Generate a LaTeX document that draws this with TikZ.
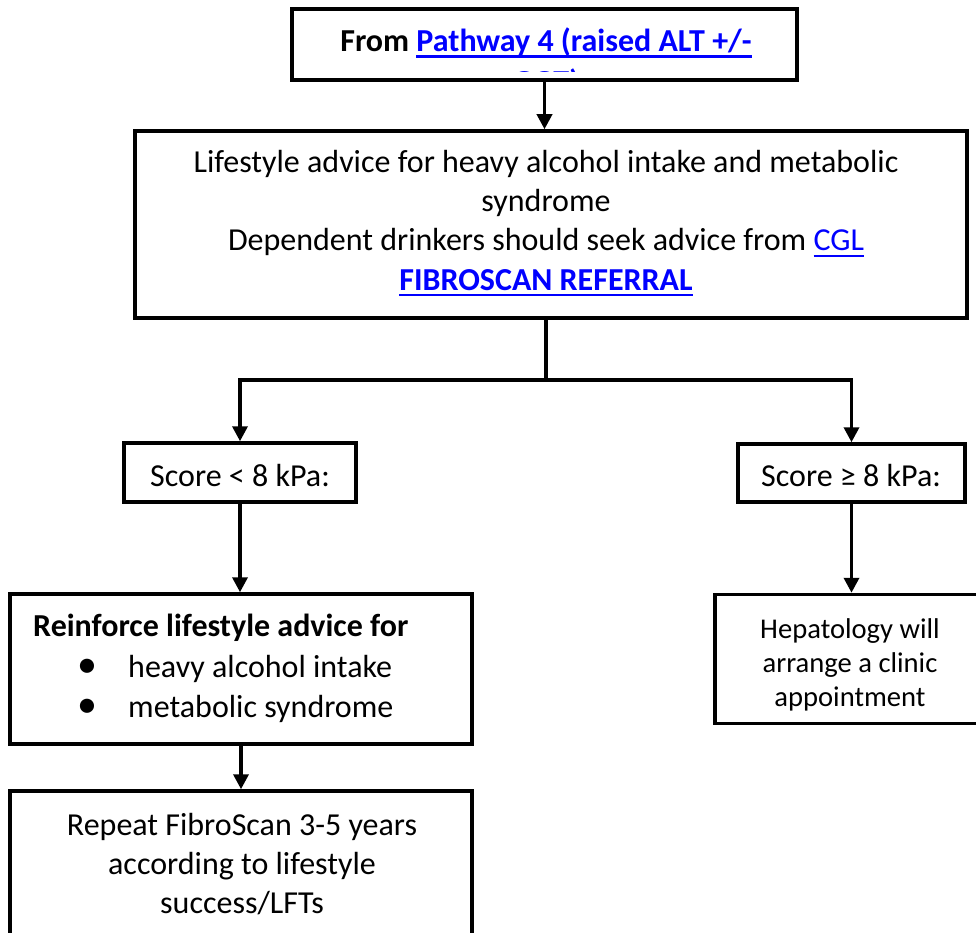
\documentclass[tikz,border=0pt]{standalone}
\usepackage{fontspec}
\setmainfont{Carlito}
\usetikzlibrary{arrows.meta}
\definecolor{lnk}{RGB}{0,0,255}
\newcommand\lnkul[2][2pt]{{\color{lnk}\setbox0\hbox{#2}\rlap{\rule[-6pt]{\wd0}{#1}}\box0}}
\begin{document}
\begin{tikzpicture}[x=1pt,y=-1pt,
  box/.style={draw, line width=3.5pt, inner sep=0pt},
  conn/.style={line width=3.5pt},
  arr/.style={conn, -{Triangle[width=15pt,length=15pt]}},
  txt/.style={inner sep=0pt, anchor=base, font=\fontsize{32}{39}\selectfont},
  stxt/.style={inner sep=0pt, anchor=base, font=\fontsize{28.6}{34}\selectfont},
]
\clip (0,0) rectangle (976,933);
\fill[white] (0,0) rectangle (976,933);
% boxes
\node[box, minimum width=505pt, minimum height=71pt] (top) at (544.5,44.5) {};
\node[box, minimum width=832pt, minimum height=187pt] (mid) at (551,224.5) {};
\node[box, minimum width=232pt, minimum height=59pt] (sL) at (240,472.5) {};
\node[box, minimum width=227pt, minimum height=58pt] (sR) at (851.5,473) {};
\node[box, minimum width=462pt, minimum height=150pt] (reinf) at (241,669) {};
\node[box, minimum width=462pt, minimum height=180pt] (rep) at (241,881) {};
\node[box, minimum width=300pt, minimum height=129pt] (hep) at (865,659) {};
% texts
\node[txt] (t1) at (546,52) {\bfseries From \lnkul[2.5pt]{Pathway 4 (raised ALT +/-}};
\begin{scope}
\clip (294,11) rectangle (795,72);
\node[txt] (t2) at (546,93) {\bfseries\lnkul[2.5pt]{GGT)}};
\end{scope}
\node[txt] (m1) at (546,173) {Lifestyle advice for heavy alcohol intake and metabolic};
\node[txt] (m2) at (546,212) {syndrome};
\node[txt] (m3) at (546,251) {Dependent drinkers should seek advice from \lnkul{CGL}};
\node[txt] (m4) at (546,290) {\bfseries\lnkul[2.5pt]{FIBROSCAN REFERRAL}};
\node[txt] (sl) at (240,486) {Score < 8 kPa:};
\node[txt] (sr) at (851,486) {Score ≥ 8 kPa:};
\node[txt, anchor=base west] (r1) at (33,636) {\bfseries Reinforce lifestyle advice for};
\node[txt] (b1) at (87,677) {\fontsize{40}{40}\selectfont •};
\node[txt, anchor=base west] (r2) at (128,677) {heavy alcohol intake};
\node[txt] (b2) at (87,717) {\fontsize{40}{40}\selectfont •};
\node[txt, anchor=base west] (r3) at (128,717) {metabolic syndrome};
\node[txt] (p1) at (242,835) {Repeat FibroScan 3-5 years};
\node[txt] (p2) at (242,874) {according to lifestyle};
\node[txt] (p3) at (242,913) {success/LFTs};
\node[stxt] (h1) at (850,638) {Hepatology will};
\node[stxt] (h2) at (850,672) {arrange a clinic};
\node[stxt] (h3) at (850,706) {appointment};
% connectors
\coordinate (split) at (546,380);
\draw[arr] (top.south) -- (top.south |- mid.north);
\draw[conn] (split |- mid.south) -- (split);
\draw[arr] ([xshift=1.75pt]split) -| (sL.north);
\draw[arr] ([xshift=-1.75pt]split) -| (sR.north);
\draw[arr] (sL.south) -- (sL.south |- reinf.north);
\draw[arr] (reinf.south) -- (reinf.south |- rep.north);
\draw[arr] (sR.south) -- (sR.south |- hep.north);
\end{tikzpicture}
\end{document}
